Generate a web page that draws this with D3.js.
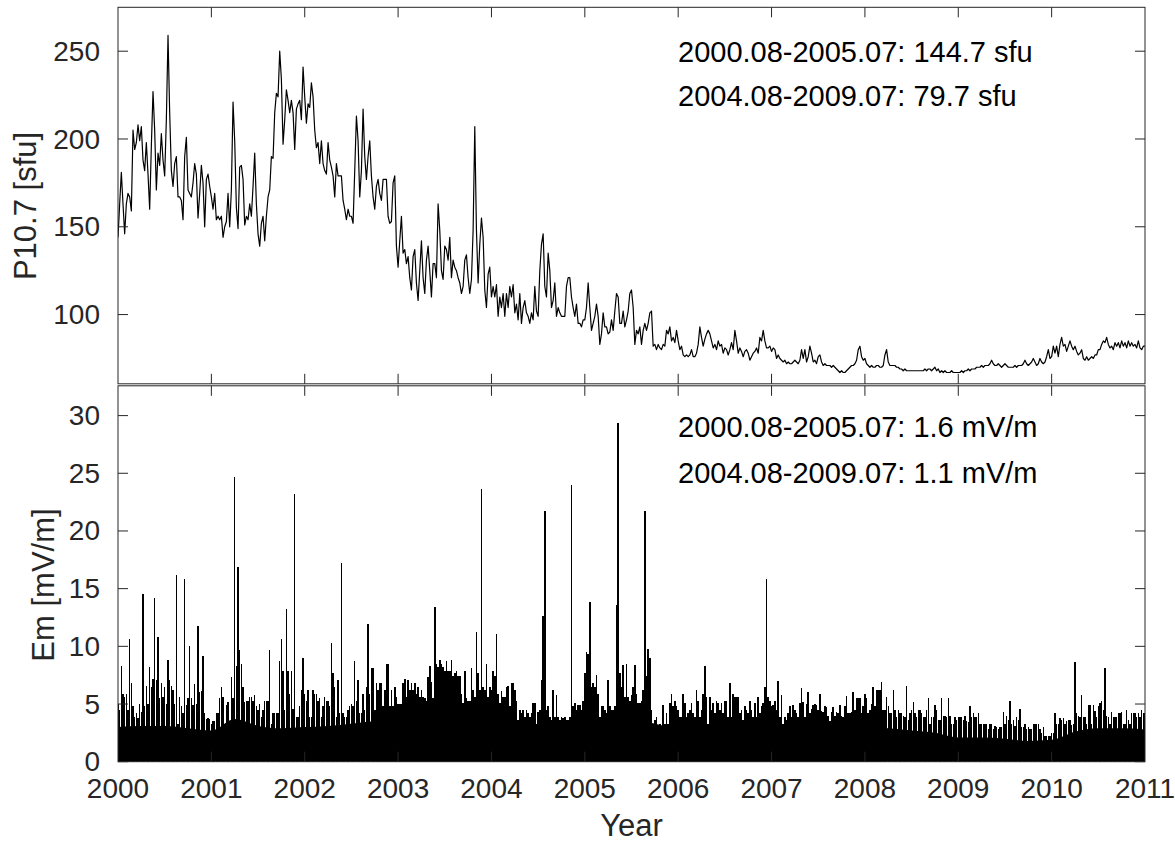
<!DOCTYPE html>
<html><head><meta charset="utf-8">
<script src="https://cdn.jsdelivr.net/npm/d3@7"></script>
<style>
body{margin:0;background:#fff}
svg{display:block}
text{font-family:"Liberation Sans",Arial,Helvetica,sans-serif}
</style>
</head><body>
<svg id="c" width="1175" height="843"></svg>
<script>
// ---------------- data ----------------
const yearTicks = [2000,2001,2002,2003,2004,2005,2006,2007,2008,2009,2010,2011];
const p107Ticks = [100,150,200,250];
const emTicks = [0,5,10,15,20,25,30];

const p107Start = 2000;          // first sample (decimal year)
const p107StepYears = 1/56;      // sampling step (years)
const p107Values = [
144,163,181,163,146,163,169,167,159,205,
194,198,208,199,207,188,182,198,180,160,
196,227,205,171,192,185,203,188,179,211,
259,215,182,173,186,190,167,167,165,154,
190,201,171,169,167,175,186,180,155,169,
185,175,150,177,180,173,167,160,169,154,
156,154,156,144,150,153,169,150,171,221,
199,161,149,184,185,177,151,156,154,163,
156,173,192,163,146,139,152,156,142,156,
167,171,190,189,215,226,224,250,234,197,
211,228,222,215,222,215,194,217,220,222,
211,241,224,209,220,218,232,224,205,195,
198,186,199,186,182,180,198,188,184,179,
167,186,179,179,179,165,160,154,160,156,
156,152,182,213,199,167,182,217,190,177,
190,199,179,167,160,173,177,169,165,177,
177,177,156,152,153,175,179,139,127,142,
156,135,137,129,133,121,114,133,137,118,
108,125,142,121,112,131,139,125,110,129,
129,121,163,148,125,120,139,137,131,144,
121,131,127,125,121,118,112,
116,131,134,121,112,120,148,207,148,118,
140,155,144,114,104,123,127,110,116,110,
117,99,110,104,112,99,112,104,116,110,
117,101,106,97,112,95,104,108,101,99,
95,101,97,116,102,99,125,140,146,116,
110,135,125,104,108,118,99,104,101,99,
99,99,116,121,121,110,104,99,106,95,
95,93,97,97,104,118,104,91,95,99,
106,99,83,89,101,93,93,89,90,97,
91,102,112,110,95,95,102,93,97,102,
112,114,104,83,91,89,93,83,91,95,
91,95,101,102,82,83,80,83,81,80,
83,82,91,89,93,85,87,84,91,85,
80,82,77,76,77,76,77,80,76,76,
78,83,93,87,82,86,89,91,89,85,
81,83,80,85,82,83,78,81,80,77,
80,84,80,91,85,78,81,79,76,79,
80,78,74,76,78,79,81,78,87,85,
91,85,81,81,82,79,81,80,75,77,
75,74,73,74,72,73,72,72,73,74,
73,72,74,80,
75,80,73,76,82,78,73,74,72,76,
77,73,71,72,71,71,71,70,71,70,
69,68,67,68,67,67,68,69,70,71,
71,72,74,80,82,76,74,75,72,71,
70,71,70,70,71,71,70,70,71,77,
80,73,71,71,71,71,70,70,69,69,
68,69,68,68,68,68,68,68,68,68,
68,68,68,69,68,69,69,68,69,70,
68,69,67,68,67,68,67,67,67,68,
67,67,67,67,67,68,67,68,68,69,
68,69,69,69,70,70,70,71,70,71,
71,71,72,74,72,71,71,72,71,70,
71,72,71,70,70,70,70,71,70,71,
71,71,72,74,72,71,72,73,75,73,
71,72,75,73,72,73,76,80,75,76,
82,78,82,76,83,87,82,83,79,82,
85,82,80,82,79,77,78,80,75,74,
76,74,75,76,75,77,77,80,80,83,
85,84,87,83,81,82,80,84,82,84,
81,85,82,84,81,85,82,84,82,83,
81,85,81,80,82,82
];

const emStart = 2000;
const emStepYears = 1/56;
// upper values of Em (mV/m) within each sampling step
const emValues = [
5.0,4.5,8.3,5.9,5.6,5.9,4.5,10.6,6.8,4.8,
3.9,4.2,3.8,5.0,4.3,14.5,4.8,6.6,5.0,8.2,
6.5,7.2,14.2,7.1,10.8,5.5,6.8,5.6,6.5,5.0,
8.8,7.1,6.6,6.2,5.0,16.2,3.3,5.6,4.8,4.2,
15.8,4.9,5.5,10.0,5.5,4.9,6.7,5.0,11.8,6.0,
6.1,9.2,4.2,3.7,3.8,3.7,3.3,3.5,3.5,4.2,
4.2,5.5,6.5,5.6,3.3,4.9,5.2,3.3,7.3,5.5,
24.7,8.3,16.9,9.7,8.5,6.5,5.2,5.3,5.3,5.6,
5.6,5.3,5.8,4.8,4.5,5.0,3.9,4.5,5.3,5.3,
5.3,9.7,3.3,4.2,4.2,4.2,4.2,8.7,10.6,7.9,
4.5,13.2,7.9,5.9,7.9,4.6,23.2,3.9,3.9,4.8,
6.2,9.0,5.9,5.3,6.2,3.9,3.9,6.2,5.9,5.9,
5.3,5.5,3.9,4.8,5.6,5.3,5.3,4.8,10.3,7.7,
6.5,3.9,7.1,4.2,17.2,4.2,3.9,3.9,4.5,4.8,
5.0,4.8,8.7,5.3,7.1,4.2,4.2,5.9,4.5,6.5,
11.9,5.9,8.1,8.1,4.5,6.8,6.2,6.8,6.8,4.8,
6.2,8.5,8.5,4.8,6.2,4.8,6.5,5.6,5.0,5.0,
5.0,6.8,7.2,5.6,7.1,6.2,6.8,6.2,6.8,5.9,
6.5,5.6,6.2,5.6,5.5,5.3,7.3,8.3,6.9,5.5,
13.4,8.5,8.2,8.8,8.5,8.2,7.9,8.7,7.9,7.9,
8.8,7.4,7.7,7.9,7.4,7.4,5.9,
5.1,7.9,5.5,5.3,5.3,8.1,6.2,5.6,11.2,7.7,
6.2,23.6,6.5,6.2,8.5,5.6,6.5,6.2,7.9,7.4,
11.1,5.9,5.1,6.1,5.6,5.6,6.5,6.6,4.8,6.8,
6.8,6.2,5.3,3.6,4.5,4.2,4.5,3.9,4.5,4.2,
3.9,4.2,5.1,5.1,3.3,4.3,4.5,7.1,12.6,21.7,
4.5,4.8,3.9,3.6,6.2,3.9,5.8,3.9,3.6,3.9,
3.8,3.9,3.6,3.6,3.9,24.0,4.8,5.1,4.5,4.9,
4.9,4.5,5.3,7.7,9.5,9.3,13.8,6.5,6.8,6.5,
7.5,5.9,3.9,4.8,4.8,4.5,4.2,7.1,4.8,4.5,
4.5,4.8,13.6,29.4,7.7,6.5,8.4,5.6,8.5,5.6,
5.3,5.8,6.5,8.4,5.9,5.1,5.1,5.3,6.2,21.7,
7.4,9.8,9.0,4.5,3.3,3.6,3.9,3.0,3.3,3.0,
4.9,3.3,4.2,3.3,5.1,5.9,4.8,5.3,4.8,4.5,
3.9,3.9,5.9,5.1,3.9,4.2,4.5,5.1,4.2,3.9,
6.2,5.3,3.9,4.5,5.9,8.3,5.6,3.3,5.6,4.5,
5.1,4.2,5.3,5.1,4.5,5.1,4.2,5.3,5.3,3.9,
6.8,3.9,5.9,5.6,5.6,5.6,4.2,4.5,3.6,4.8,
4.5,4.2,5.3,4.5,3.9,5.1,3.9,5.6,4.2,4.8,
5.1,6.5,15.8,5.6,5.3,4.8,4.9,5.3,4.5,7.0,
3.9,5.8,3.3,3.9,3.6,4.2,4.8,3.9,4.9,4.5,
4.2,3.9,5.1,
6.4,5.2,3.9,5.0,6.0,4.2,4.6,4.9,5.0,4.9,
4.5,5.9,4.4,4.3,4.8,4.7,4.0,3.5,4.3,4.7,
4.0,4.3,4.2,4.9,4.0,3.9,4.8,5.7,4.2,4.2,
4.3,6.0,4.5,5.5,5.5,5.5,4.2,4.8,5.9,5.5,
4.2,4.5,5.0,6.5,4.8,6.2,6.2,6.2,6.9,4.5,
4.5,5.6,4.8,4.2,4.2,6.2,4.5,3.9,4.5,4.2,
4.2,4.0,3.9,6.6,3.6,4.2,4.5,5.2,4.2,3.9,
4.5,4.5,4.2,3.9,3.9,4.5,5.5,3.3,3.9,3.9,
4.9,4.5,3.6,3.6,5.5,4.0,4.0,3.9,5.5,4.0,
3.3,3.3,3.9,3.6,3.9,3.9,3.9,3.6,4.0,3.5,
3.4,4.8,3.9,4.2,3.9,3.9,4.2,3.3,3.3,3.3,
3.3,3.3,2.8,3.3,3.3,2.8,3.1,3.0,2.8,3.0,
3.0,4.3,3.3,4.0,3.6,5.3,3.3,3.6,3.1,3.9,
3.6,4.6,3.0,3.0,3.3,2.8,3.0,2.8,2.8,3.3,
3.3,3.3,3.3,2.8,2.5,3.0,2.2,2.2,2.2,2.2,
2.5,2.5,4.2,3.3,3.3,3.8,3.6,3.8,3.3,3.5,
3.6,3.6,3.2,3.3,8.6,4.2,4.0,3.9,5.8,3.9,
3.9,3.3,4.9,4.9,3.3,4.9,4.4,3.9,4.8,5.1,
5.3,4.5,8.1,4.0,3.9,3.3,4.3,3.9,3.9,3.9,
4.2,4.2,4.3,3.3,3.3,4.5,3.6,3.3,4.2,4.2,
4.2,3.9,4.2,3.9,4.5,4.2,4.2
];

// level below which the daily Em trace is solid (quarterly reading)
const emBaseStepYears = 0.25;
const emBase = [3.0,3.1,3.1,2.9,2.7,3.7,3.1,2.9,3.0,3.1,3.3,3.5,3.6,3.7,4.1,3.9,
  3.7,3.2,3.1,3.3,3.5,3.7,3.7,3.3,2.9,2.9,2.9,3.0,3.0,2.9,2.9,3.0,3.0,2.9,2.7,2.5,
  2.1,2.1,2.0,1.8,1.9,2.6,2.9,2.9,2.8];

const p107Notes = ["2000.08-2005.07: 144.7 sfu", "2004.08-2009.07: 79.7 sfu"];
const emNotes = ["2000.08-2005.07: 1.6 mV/m", "2004.08-2009.07: 1.1 mV/m"];
const p107Label = "P10.7 [sfu]";
const emLabel = "Em [mV/m]";
const xLabel = "Year";

// ---------------- layout ----------------
const svg = d3.select("#c");
const L = 118, R = 1145;
const top1 = 7.3, bot1 = 383.8;
const top2 = 385.8, bot2 = 761.7;
const axisColor = "#262626";
const tickLen = 10;

const x = d3.scaleLinear().domain([2000, 2011]).range([L, R]);
const yP = d3.scaleLinear().domain([60, 275]).range([384.8, top1]);
const yE = d3.scaleLinear().domain([0, 32.6]).range([bot2, 385.6]);

const defs = svg.append("defs");
defs.append("clipPath").attr("id", "clipTop").append("rect")
  .attr("x", L).attr("y", top1).attr("width", R - L).attr("height", bot1 - top1);
defs.append("clipPath").attr("id", "clipBot").append("rect")
  .attr("x", L).attr("y", top2).attr("width", R - L).attr("height", bot2 - top2);

// ---- Em panel data ----
const gE = svg.append("g").attr("clip-path", "url(#clipBot)");
const baseArea = d3.area()
  .x((d, k) => x(emStart + k * emBaseStepYears))
  .y0(yE(0))
  .y1(d => yE(d))
  .curve(d3.curveMonotoneX);
gE.append("path").datum(emBase).attr("d", baseArea).attr("fill", "#000");
gE.selectAll("line.stem").data(emValues).join("line")
  .attr("class", "stem")
  .attr("x1", (d, i) => x(emStart + i * emStepYears))
  .attr("x2", (d, i) => x(emStart + i * emStepYears))
  .attr("y1", yE(0))
  .attr("y2", d => yE(d))
  .attr("stroke", "#000")
  .attr("stroke-width", 1.5)
  .attr("shape-rendering", "crispEdges");

// ---- P10.7 line ----
const gP = svg.append("g").attr("clip-path", "url(#clipTop)");
const pLine = d3.line()
  .x((d, i) => x(p107Start + i * p107StepYears))
  .y(d => yP(d));
gP.append("path").datum(p107Values).attr("d", pLine)
  .attr("fill", "none").attr("stroke", "#000").attr("stroke-width", 1.2)
  .attr("stroke-linejoin", "round");

// ---- axes (box style, inward ticks) ----
function box(y0, y1, yScale, yTicks) {
  const g = svg.append("g");
  g.append("rect").attr("x", L).attr("y", y0).attr("width", R - L).attr("height", y1 - y0)
    .attr("fill", "none").attr("stroke", axisColor).attr("stroke-width", 1);
  g.selectAll(null).data(yearTicks.slice(1, -1)).join("line")
    .attr("x1", d => x(d)).attr("x2", d => x(d))
    .attr("y1", y0).attr("y2", y0 + tickLen)
    .attr("stroke", axisColor);
  g.selectAll(null).data(yearTicks.slice(1, -1)).join("line")
    .attr("x1", d => x(d)).attr("x2", d => x(d))
    .attr("y1", y1).attr("y2", y1 - tickLen)
    .attr("stroke", axisColor);
  g.selectAll(null).data(yTicks).join("line")
    .attr("x1", L).attr("x2", L + tickLen)
    .attr("y1", d => yScale(d)).attr("y2", d => yScale(d))
    .attr("stroke", axisColor);
  g.selectAll(null).data(yTicks).join("line")
    .attr("x1", R).attr("x2", R - tickLen)
    .attr("y1", d => yScale(d)).attr("y2", d => yScale(d))
    .attr("stroke", axisColor);
  g.selectAll(null).data(yTicks).join("text")
    .attr("x", L - 18).attr("y", d => yScale(d)).attr("dy", "0.34em")
    .attr("text-anchor", "end").attr("font-size", 28).attr("fill", axisColor)
    .text(d => d);
  return g;
}
box(top1, bot1, yP, p107Ticks);
box(top2, bot2, yE, emTicks);

// x tick labels (bottom panel)
svg.append("g").selectAll("text").data(yearTicks).join("text")
  .attr("x", d => x(d)).attr("y", 798)
  .attr("text-anchor", "middle").attr("font-size", 28).attr("fill", axisColor)
  .text(d => d);

// axis titles
svg.append("text").attr("transform", "translate(36,206) rotate(-90)")
  .attr("text-anchor", "middle").attr("font-size", 31).attr("fill", axisColor)
  .text(p107Label);
svg.append("text").attr("transform", "translate(54,585) rotate(-90)")
  .attr("text-anchor", "middle").attr("font-size", 31).attr("fill", axisColor)
  .text(emLabel);
svg.append("text").attr("x", (L + R) / 2).attr("y", 836)
  .attr("text-anchor", "middle").attr("font-size", 31).attr("fill", axisColor)
  .text(xLabel);

// annotations
svg.append("g").selectAll("text").data(p107Notes).join("text")
  .attr("x", 678).attr("y", (d, i) => 61.5 + i * 44.5)
  .attr("font-size", 29).attr("fill", "#000").text(d => d);
svg.append("g").selectAll("text").data(emNotes).join("text")
  .attr("x", 678).attr("y", (d, i) => 437.3 + i * 45.3)
  .attr("font-size", 29).attr("fill", "#000").text(d => d);
</script>
</body></html>
